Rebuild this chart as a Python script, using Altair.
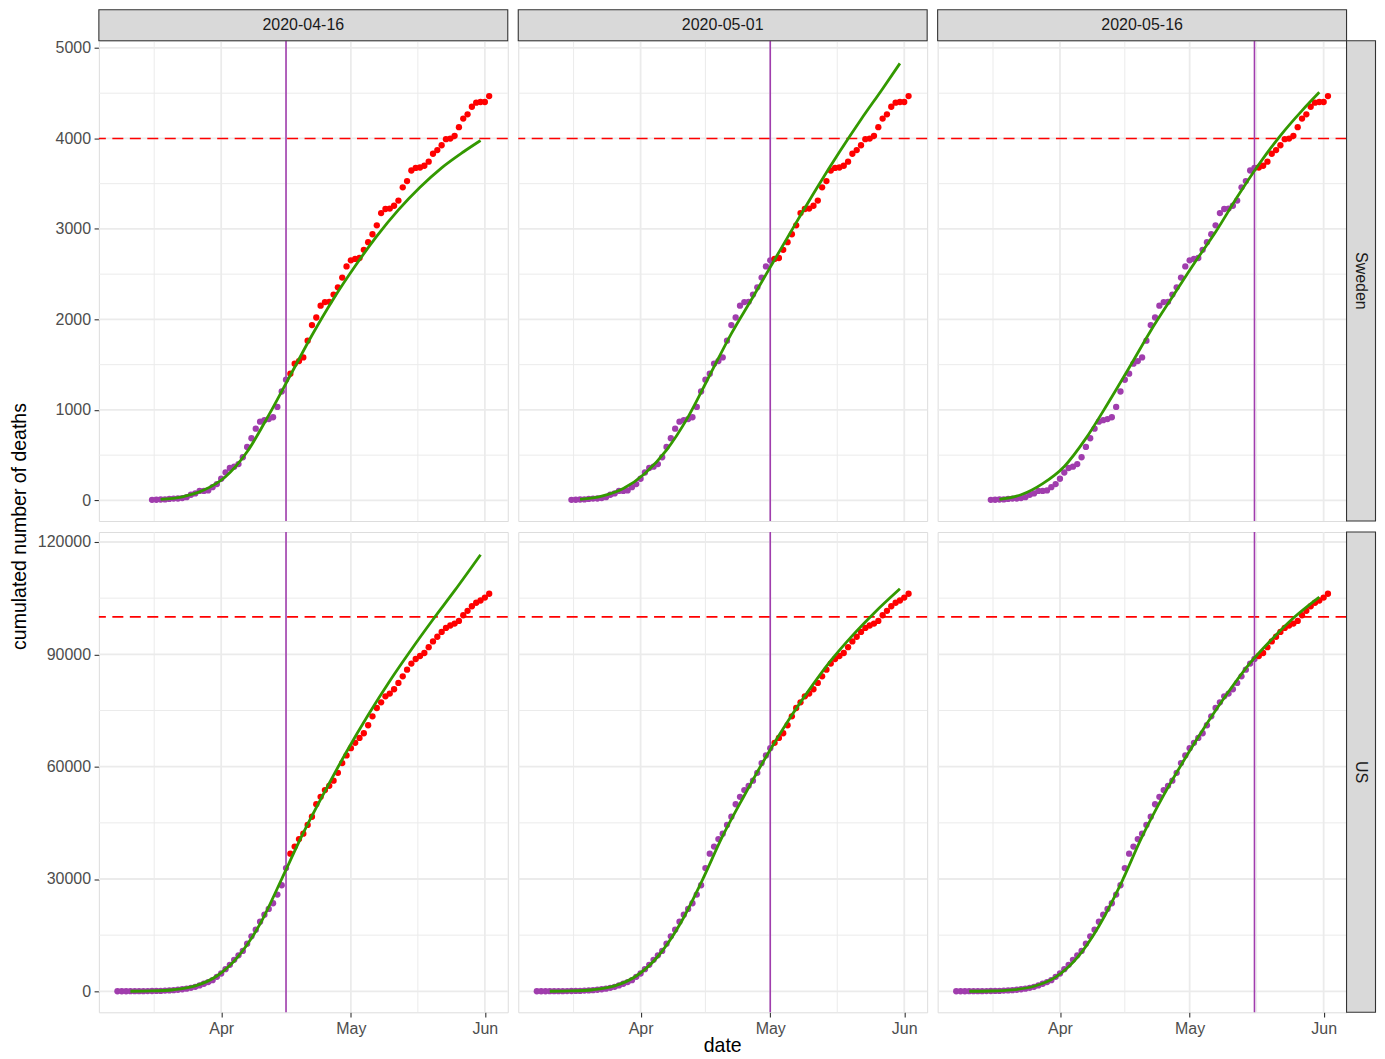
import altair as alt
import pandas as pd

# ---------------- data ----------------
countries = ["Sweden", "US"]
cutoffs = ["2020-04-16", "2020-05-01", "2020-05-16"]
thresholds = {"Sweden": 4000, "US": 100000}

sweden_start = "2020-03-16"
sweden_deaths = [
    6, 7, 10, 11, 16, 20, 21, 25, 36, 62, 77, 105, 105, 110, 146, 180,
    239, 308, 358, 373, 401, 477, 591, 687, 793, 870, 887, 899, 919, 1033, 1203,
    1333, 1400, 1511, 1540, 1580, 1765, 1937, 2021, 2152, 2192, 2194, 2274, 2355, 2462, 2586,
    2653, 2669, 2679, 2769, 2854, 2941, 3040, 3175, 3220, 3225, 3256, 3313, 3460, 3529, 3646,
    3674, 3679, 3698, 3743, 3831, 3871, 3925, 3992, 3998, 4029, 4125, 4220, 4266, 4350, 4395, 4403,
    4403, 4468,
]
us_start = "2020-03-08"
us_deaths = [
    21, 22, 28, 36, 40, 47, 54, 63, 85, 108, 118, 200, 244, 307, 427, 552,
    706, 942, 1209, 1581, 2026, 2467, 2978, 3873,
    4757, 5926, 7087, 8407, 9619, 10783, 12722, 14695, 16478, 18586, 20463, 22020, 23529, 25832, 28325,
    32916, 36773, 38664, 40661, 42094, 44444, 46622, 49954, 51949, 53755, 54881, 56259, 58355, 60967, 62996,
    64943, 66369, 67682, 68922, 71064, 73455, 75662, 77180, 78795, 79526, 80682, 82356, 84119, 85898, 87530,
    88754, 89562, 90347, 91921, 93439, 94702, 95979, 97048, 97695, 98223, 98916, 100442, 101617, 102836, 103781, 104381,
    105147, 106181,
]

sweden_fit_dates = ["2020-03-18", "2020-03-23", "2020-03-28", "2020-04-02", "2020-04-07", "2020-04-12",
                    "2020-04-17", "2020-04-22", "2020-04-27", "2020-05-02", "2020-05-07", "2020-05-12",
                    "2020-05-17", "2020-05-22", "2020-05-27", "2020-05-31"]
sweden_fit_0416 = [11, 40, 114, 261, 537, 942, 1383, 1825, 2229, 2590, 2920, 3210, 3460, 3675, 3850, 3977]
sweden_fit_0501 = [11, 48, 132, 298, 556, 923, 1383, 1843, 2248, 2660, 3070, 3470, 3850, 4210, 4550, 4830]
sweden_fit_0516 = [11, 62, 185, 375, 685, 1065, 1465, 1875, 2248, 2616, 2965, 3352, 3712, 4032, 4308, 4510]

us_fit_dates = ["2020-03-11", "2020-03-16", "2020-03-21", "2020-03-26", "2020-03-31", "2020-04-05",
                "2020-04-10", "2020-04-15", "2020-04-20", "2020-04-25", "2020-04-30", "2020-05-05",
                "2020-05-10", "2020-05-15", "2020-05-20", "2020-05-25", "2020-05-31"]
us_fit_0416 = [20, 100, 420, 1450, 4100, 9400, 18000, 30000, 42300, 53400, 64000, 73800, 82900, 91300, 99300, 107000, 116600]
us_fit_0501 = [20, 100, 420, 1450, 4100, 9300, 17700, 29000, 41500, 52300, 62600, 72000, 80500, 88300, 95000, 101000, 107500]
us_fit_0516 = [20, 90, 380, 1350, 3800, 9000, 17400, 28500, 41300, 52400, 62300, 71500, 80000, 87700, 94000, 99700, 105300]

fits = {
    ("Sweden", "2020-04-16"): (sweden_fit_dates, sweden_fit_0416),
    ("Sweden", "2020-05-01"): (sweden_fit_dates, sweden_fit_0501),
    ("Sweden", "2020-05-16"): (sweden_fit_dates, sweden_fit_0516),
    ("US", "2020-04-16"): (us_fit_dates, us_fit_0416),
    ("US", "2020-05-01"): (us_fit_dates, us_fit_0501),
    ("US", "2020-05-16"): (us_fit_dates, us_fit_0516),
}
observed = {"Sweden": (sweden_start, sweden_deaths), "US": (us_start, us_deaths)}

y_major = {"Sweden": [0, 1000, 2000, 3000, 4000, 5000], "US": [0, 30000, 60000, 90000, 120000]}
y_minor = {"Sweden": [500, 1500, 2500, 3500, 4500], "US": [15000, 45000, 75000, 105000]}
x_major = ["2020-04-01", "2020-05-01", "2020-06-01"]
x_minor = ["2020-03-16T12:00:00Z", "2020-04-16T00:00:00Z", "2020-05-16T12:00:00Z"]

# ---------------- styling ----------------
W, H = 409.5, 481
STRIP_TOP = 31
STRIP_RIGHT = 29
PURPLE = "#A03DAD"
RED = "#FF0000"
GREEN = "#339900"
GRID = "#EBEBEB"
FONT = "Liberation Sans"
LABEL_SIZE = 16


def ms(s):
    return int(pd.Timestamp(s).value // 10**6)


DAY = 86400000
x_dom = [ms("2020-03-08T00:00:00Z") - 4.3 * DAY, ms("2020-06-02T00:00:00Z") + 4.3 * DAY]
y_dom = {"Sweden": [-228, 5080], "US": [-5600, 122670]}


def panel(ri, ci):
    country = countries[ri]
    cutoff = cutoffs[ci]
    xs = alt.Scale(type="utc", domain=x_dom, nice=False)
    ys = alt.Scale(domain=y_dom[country], nice=False, zero=False)
    if ri == 1:
        xaxis = alt.Axis(values=[ms(d + "T00:00:00Z") for d in x_major], format="%b", title=None,
                         grid=False, domain=False, labelFontSize=LABEL_SIZE, labelColor="#4D4D4D",
                         tickColor="#333333", tickSize=4.8, tickWidth=1.1, labelPadding=3,
                         labelFont=FONT)
    else:
        xaxis = None
    if ci == 0:
        yaxis = alt.Axis(values=y_major[country], format="d", title=None, grid=False, domain=False,
                         labelFontSize=LABEL_SIZE, labelColor="#4D4D4D", tickColor="#333333",
                         tickSize=4.8, tickWidth=1.1, labelPadding=3.5, labelFont=FONT)
    else:
        yaxis = None

    X = lambda f="date": alt.X(f + ":T", scale=xs, axis=xaxis)
    Y = lambda f="value": alt.Y(f + ":Q", scale=ys, axis=yaxis)

    layers = []
    # grid lines
    layers.append(alt.Chart(pd.DataFrame({"date": x_minor})).mark_rule(color=GRID, strokeWidth=1.0).encode(x=X()))
    layers.append(alt.Chart(pd.DataFrame({"value": y_minor[country]})).mark_rule(color=GRID, strokeWidth=1.0).encode(y=Y()))
    layers.append(alt.Chart(pd.DataFrame({"date": x_major})).mark_rule(color=GRID, strokeWidth=1.8).encode(x=X()))
    layers.append(alt.Chart(pd.DataFrame({"value": y_major[country]})).mark_rule(color=GRID, strokeWidth=1.8).encode(y=Y()))

    # observed points
    start, vals = observed[country]
    dates = pd.date_range(start, periods=len(vals), freq="D").strftime("%Y-%m-%d").tolist()
    pts = pd.DataFrame({"date": dates, "value": vals})
    pts["phase"] = ["fit" if d <= cutoff else "test" for d in dates]
    layers.append(
        alt.Chart(pts).mark_circle(size=40, opacity=1).encode(
            x=X(), y=Y(),
            color=alt.Color("phase:N", scale=alt.Scale(domain=["fit", "test"], range=[PURPLE, RED]), legend=None),
        )
    )
    # threshold
    layers.append(alt.Chart(pd.DataFrame({"value": [thresholds[country]]})).mark_rule(
        color=RED, strokeWidth=1.6, strokeDash=[11, 6.5]).encode(y=Y()))
    # cutoff
    layers.append(alt.Chart(pd.DataFrame({"date": [cutoff]})).mark_rule(
        color=PURPLE, strokeWidth=1.6).encode(x=X()))
    # fitted curve
    fd, fv = fits[(country, cutoff)]
    layers.append(alt.Chart(pd.DataFrame({"date": fd, "value": fv})).mark_line(
        color=GREEN, strokeWidth=2.8, interpolate="monotone").encode(x=X(), y=Y()))

    one = pd.DataFrame({"t": [0]})
    # top strip
    if ri == 0:
        layers.append(alt.Chart(one).mark_rect(fill="#D9D9D9", stroke="#333333", strokeWidth=1.1).encode(
            x=alt.value(0), x2=alt.value(W), y=alt.value(-STRIP_TOP), y2=alt.value(0)))
        layers.append(alt.Chart(pd.DataFrame({"t": [cutoff]})).mark_text(
            fontSize=LABEL_SIZE, color="#1A1A1A", font=FONT, baseline="middle", align="center").encode(
            text="t:N", x=alt.value(W / 2), y=alt.value(-STRIP_TOP / 2)))
    # right strip
    if ci == 2:
        layers.append(alt.Chart(one).mark_rect(fill="#D9D9D9", stroke="#333333", strokeWidth=1.1).encode(
            x=alt.value(W), x2=alt.value(W + STRIP_RIGHT), y=alt.value(0), y2=alt.value(H)))
        layers.append(alt.Chart(pd.DataFrame({"t": [country]})).mark_text(
            fontSize=LABEL_SIZE, color="#1A1A1A", font=FONT, baseline="middle", align="center", angle=90).encode(
            text="t:N", x=alt.value(W + STRIP_RIGHT / 2), y=alt.value(H / 2)))
    # shared axis titles
    if ri == 0 and ci == 0:
        layers.append(alt.Chart(pd.DataFrame({"t": ["cumulated number of deaths"]})).mark_text(
            fontSize=19.5, color="#000000", font=FONT, baseline="middle", align="center", angle=270).encode(
            text="t:N", x=alt.value(-79), y=alt.value(H + 5.5)))
    if ri == 1 and ci == 1:
        layers.append(alt.Chart(pd.DataFrame({"t": ["date"]})).mark_text(
            fontSize=19.5, color="#000000", font=FONT, baseline="bottom", align="center").encode(
            text="t:N", x=alt.value(W / 2), y=alt.value(525)))

    return alt.layer(*layers).properties(width=W, height=H)


panels = [panel(r, c) for r in range(2) for c in range(3)]

chart = (
    alt.concat(*panels, columns=3, spacing={"row": 11, "column": 10}, bounds="flush")
    .resolve_scale(x="independent", y="independent", color="independent")
    .properties(padding={"left": 1, "top": -1, "right": 0, "bottom": 0}, background="white")
    .configure_view(stroke="#333333", strokeWidth=1.3)
    .configure(font=FONT)
)

chart.save("out.html", embed_options={"renderer": "svg", "actions": False})
